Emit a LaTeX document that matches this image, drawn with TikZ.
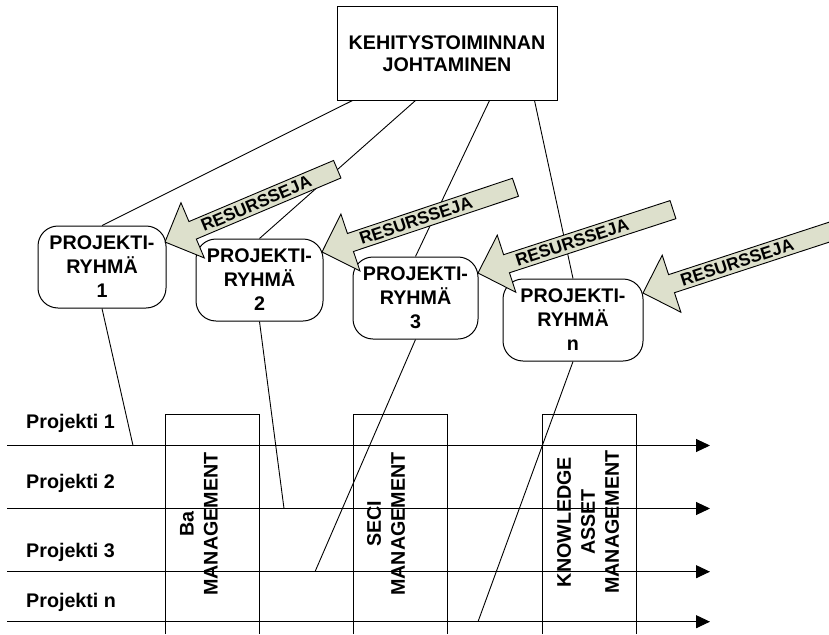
\documentclass[tikz,border=0pt]{standalone}
\usepackage{fontspec}
\setmainfont{Liberation Sans}
\usetikzlibrary{arrows.meta,calc}

\definecolor{resfill}{RGB}{221,224,204}
\newcommand\lblfont{\bfseries\fontsize{19.7}{24}\selectfont}
\newcommand\topfont{\bfseries\fontsize{19.7}{22}\selectfont}
\newcommand\resfont{\bfseries\fontsize{17.4}{18}\selectfont}

\tikzset{
  every node/.style={inner sep=0pt},
  link/.style={line width=0.9pt},
  topbox/.style={draw, line width=1pt, fill=white, minimum width=220pt,
    minimum height=93pt, align=center, font=\topfont},
  groupbox/.style={draw, line width=1pt, fill=white, rounded corners=20pt,
    minimum height=82pt, align=center, font=\lblfont},
  flow/.style={line width=1pt, -{Triangle[length=14pt,width=13pt]}},
  lane/.style={line width=1pt},
  resshape/.style={draw, line width=0.9pt, fill=resfill, line join=miter},
  restext/.style={font=\resfont},
  rowlabel/.style={font=\lblfont, anchor=base west},
  vlabel/.style={font=\lblfont, rotate=90, align=center},
}

% block arrow: #1 name, #2 tip, #3 angle of the shaft, #4 length
\newcommand\resarrow[4]{%
  \begin{scope}[shift={#2}, rotate=#3]
    \path[resshape] (0,0) -- (30,30) -- (30,9.5) -- (#4,9.5) -- (#4,-9.5)
      -- (30,-9.5) -- (30,-30) -- cycle;
    \node[restext, rotate=#3] (#1) at (99,0) {RESURSSEJA};
  \end{scope}}

\begin{document}
\begin{tikzpicture}[x=1pt, y=-1pt]
  \useasboundingbox (0,0) rectangle (829,634);

  % management lanes (open at the bottom)
  \draw[lane] (165,634) -- (165,414) -- (259,414) -- (259,634);
  \draw[lane] (353,634) -- (353,414) -- (447,414) -- (447,634);
  \draw[lane] (542,634) -- (542,414) -- (636,414) -- (636,634);

  \node[vlabel] (ba)   at (199,524) {Ba\\MANAGEMENT};
  \node[vlabel] (seci) at (386,524) {SECI\\MANAGEMENT};
  \node[vlabel] (kam)  at (588,522) {KNOWLEDGE\\ASSET\\MANAGEMENT};

  % project time lines
  \coordinate (s1) at (7,445.5);   \coordinate (t1) at (710,445.5);
  \coordinate (s2) at (7,508.5);   \coordinate (t2) at (710,508.5);
  \coordinate (s3) at (7,571.7);   \coordinate (t3) at (710,571.7);
  \coordinate (s4) at (7,621.7);   \coordinate (t4) at (710,621.7);
  \draw[flow] (s1) -- (t1);
  \draw[flow] (s2) -- (t2);
  \draw[flow] (s3) -- (t3);
  \draw[flow] (s4) -- (t4);

  \node[rowlabel] (r1) at (26,428) {Projekti 1};
  \node[rowlabel] (r2) at (26,488) {Projekti 2};
  \node[rowlabel] (r3) at (26,557) {Projekti 3};
  \node[rowlabel] (r4) at (26,607) {Projekti n};

  % top management box
  \node[topbox] (kt) at (447,53.5) {KEHITYSTOIMINNAN\\JOHTAMINEN};

  % project groups
  \node[groupbox, minimum width=128pt] (p1) at (102,267)   {PROJEKTI-\\RYHMÄ\\1};
  \node[groupbox, minimum width=127pt] (p2) at (259.5,280) {PROJEKTI-\\RYHMÄ\\2};
  \node[groupbox, minimum width=125pt] (p3) at (415.5,298) {PROJEKTI-\\RYHMÄ\\3};
  \node[groupbox, minimum width=140pt] (pn) at (573,320)   {PROJEKTI-\\RYHMÄ\\n};

  % management links
  \draw[link] ([xshift=16pt]kt.south west) -- (p1.north);
  \draw[link] ([xshift=79pt]kt.south west) -- (p2.north);
  \draw[link] ([xshift=153pt]kt.south west) -- (p3.north);
  \draw[link] ([xshift=198pt]kt.south west) -- (pn.north);

  % groups joining the project lines
  \coordinate (e1) at (133,445.5);
  \coordinate (e2) at (284,508.5);
  \coordinate (e3) at (315,571.7);
  \coordinate (e4) at (478,621.7);
  \draw[link] (p1.south) -- (e1);
  \draw[link] (p2.south) -- (e2);
  \draw[link] (p3.south) -- (e3);
  \draw[link] (pn.south) -- (e4);

  % resource arrows
  \resarrow{a1}{(165,242)}{22.9}{187}
  \resarrow{a2}{(322,252)}{18.5}{204}
  \resarrow{a3}{(478,273)}{18.0}{205}
  \resarrow{a4}{(643,293)}{18.1}{215}
\end{tikzpicture}
\end{document}
